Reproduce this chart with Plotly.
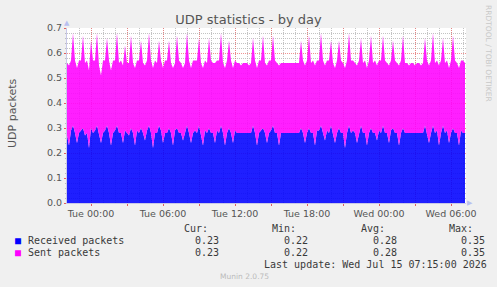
import plotly.graph_objects as go
import pandas as pd

# ---------------- data ----------------
start_time = "2026-07-13 22:00"
end_time = "2026-07-15 07:15"

received = [
    .27, .23, .29, .31, .28, .24, .28, .29, .30, .27,
    .28, .22, .30, .28, .29, .31, .27, .24, .28, .29,
    .31, .28, .23, .28, .29, .31, .28, .28, .24, .29,
    .28, .27, .30, .28, .23, .29, .28, .30, .28, .25,
    .29, .31, .28, .22, .28, .28, .31, .29, .24, .28,
    .28, .30, .28, .23, .29, .30, .28, .28, .25, .28,
    .31, .28, .24, .28, .29, .28, .31, .27, .23, .29,
    .28, .30, .28, .28, .24, .29, .28, .31, .28, .23,
    .28, .30, .28, .24, .29, .28, .28, .28, .28, .28,
    .28, .28, .28, .31, .28, .23, .28, .29, .30, .28,
    .24, .28, .29, .31, .28, .28, .23, .28, .28, .28,
    .28, .28, .28, .28, .28, .28, .28, .30, .28, .24,
    .28, .30, .28, .28, .23, .29, .29, .31, .28, .25,
    .29, .28, .31, .28, .24, .28, .30, .28, .28, .22,
    .28, .31, .28, .29, .28, .24, .28, .31, .28, .28,
    .23, .28, .30, .28, .28, .25, .29, .28, .31, .28,
    .28, .24, .29, .30, .28, .28, .23, .28, .30, .28,
    .28, .28, .28, .28, .28, .28, .28, .28, .28, .31,
    .28, .24, .28, .31, .28, .29, .23, .28, .31, .28,
    .29, .24, .28, .30, .28, .28, .23, .29, .28, .28,
]
sent = [
    .29, .32, .28, .37, .29, .30, .29, .28, .37, .29,
    .29, .31, .35, .29, .28, .37, .28, .27, .29, .28,
    .35, .29, .30, .29, .28, .37, .28, .29, .31, .34,
    .28, .29, .37, .28, .31, .28, .29, .35, .28, .30,
    .28, .37, .29, .32, .29, .28, .34, .28, .30, .29,
    .29, .35, .28, .31, .27, .37, .29, .28, .29, .28,
    .37, .29, .30, .29, .28, .29, .35, .29, .31, .28,
    .28, .36, .29, .28, .32, .28, .29, .37, .28, .31,
    .29, .35, .29, .30, .28, .28, .28, .27, .28, .28,
    .28, .27, .28, .35, .29, .31, .29, .28, .37, .28,
    .31, .29, .28, .36, .29, .28, .32, .28, .28, .28,
    .28, .28, .28, .28, .28, .28, .28, .35, .29, .31,
    .29, .37, .28, .29, .32, .28, .28, .37, .29, .30,
    .28, .29, .34, .28, .30, .29, .35, .29, .28, .32,
    .29, .37, .29, .28, .28, .31, .29, .35, .28, .29,
    .31, .29, .37, .28, .29, .30, .28, .29, .36, .29,
    .28, .31, .28, .35, .29, .28, .32, .29, .37, .28,
    .28, .27, .28, .28, .27, .28, .28, .27, .28, .35,
    .29, .31, .29, .37, .28, .28, .32, .29, .35, .28,
    .28, .30, .29, .37, .29, .28, .31, .28, .29, .28,
]

series_names = ["Received packets", "Sent packets"]
series_colors = ["#0000ff", "#ff00ff"]
cur_values = ["0.23", "0.23"]
min_values = ["0.22", "0.22"]
avg_values = ["0.28", "0.28"]
max_values = ["0.35", "0.35"]

tick_vals = [
    "2026-07-14 00:00", "2026-07-14 03:00", "2026-07-14 06:00", "2026-07-14 09:00",
    "2026-07-14 12:00", "2026-07-14 15:00", "2026-07-14 18:00", "2026-07-14 21:00",
    "2026-07-15 00:00", "2026-07-15 03:00", "2026-07-15 06:00",
]
tick_text = [
    "Tue 00:00", "", "Tue 06:00", "", "Tue 12:00", "", "Tue 18:00", "",
    "Wed 00:00", "", "Wed 06:00",
]

title_text = "UDP statistics - by day"
y_title = "UDP packets"
last_update = "Last update: Wed Jul 15 07:15:00 2026"
version_text = "Munin 2.0.75"
side_text = "RRDTOOL / TOBI OETIKER"

times = pd.date_range(start_time, periods=len(received), freq="10min")

# ---------------- figure ----------------
W, H = 497, 287
L, R, T, B = 67, 31, 28, 84
PW, PH = W - L - R, H - T - B


def px(x):
    return (x - L) / PW


def py(y):
    return (H - B - y) / PH


fig = go.Figure()
fills = ["rgba(0,0,255,0.88)", "rgba(255,0,255,0.88)"]
for vals, name, fc in zip([received, sent], series_names, fills):
    fig.add_trace(go.Scatter(
        x=times, y=vals, name=name, mode="lines", stackgroup="one",
        line=dict(width=0, shape="linear"), fillcolor=fc, showlegend=False,
        hoverinfo="skip",
    ))

major_grid = "rgba(235,110,110,0.75)"
minor_grid = "rgba(180,180,180,0.8)"

fig.update_layout(
    width=W, height=H,
    margin=dict(l=L, r=R, t=T, b=B, pad=0),
    paper_bgcolor="#f0f0f0", plot_bgcolor="#ffffff",
    font=dict(family="DejaVu Sans", color="#555555"),
    title=dict(text=title_text, x=0.5, xanchor="center", y=1 - 19 / H,
               yanchor="middle", font=dict(size=13, color="#555555")),
    showlegend=False,
    xaxis=dict(
        type="date", range=[start_time, end_time],
        tickvals=tick_vals, ticktext=tick_text,
        tickfont=dict(size=9.5, color="#555555"),
        showgrid=True, gridcolor=major_grid, griddash="1px,1px", gridwidth=1,
        ticks="outside", ticklen=2, tickcolor="#e06060",
        showline=True, linecolor="#c8c8e8", linewidth=1, zeroline=False,
        minor=dict(dtick=3600000, tick0=start_time, showgrid=True,
                   gridcolor=minor_grid, griddash="1px,1px", ticks=""),
    ),
    yaxis=dict(
        range=[0, 0.7], tick0=0, dtick=0.1, tickformat=".1f",
        tickfont=dict(size=9.5, color="#555555"),
        showgrid=True, gridcolor=major_grid, griddash="1px,1px", gridwidth=1,
        ticks="outside", ticklen=2, tickcolor="#e06060",
        showline=True, linecolor="#c8c8e8", linewidth=1, zeroline=False,
        minor=dict(dtick=0.02, showgrid=True, gridcolor=minor_grid,
                   griddash="1px,1px", ticks="outside", ticklen=1,
                   tickcolor="#bbbbbb"),
    ),
    yaxis2=dict(
        overlaying="y", side="right", range=[0, 0.7], showgrid=False,
        showticklabels=False, ticks="", showline=True, linecolor="#999999",
        zeroline=False,
    ),
)

ann = []
# y axis title
ann.append(dict(text=y_title, x=px(12), y=py(114), textangle=-90,
                font=dict(size=11, color="#555555")))
# side text
ann.append(dict(text=side_text, x=px(489), y=py(53), textangle=90,
                font=dict(size=7.5, color="#c8c8c8")))
# axis arrows
ann.append(dict(text="▲", x=px(67), y=py(23), font=dict(size=7, color="#b8c0f0")))
ann.append(dict(text="▶", x=px(470), y=py(203), font=dict(size=7, color="#b8c0f0")))

mono = dict(family="DejaVu Sans Mono", size=10, color="#3a3a3a")
headers = [("Cur:", 182), ("Min:", 270), ("Avg:", 358.5), ("Max:", 447)]
for txt, x in headers:
    ann.append(dict(text=txt, x=px(x), y=py(228.5), xanchor="left", font=mono))

row_y = [240, 252]
for i in range(2):
    ann.append(dict(text="■", x=px(13), y=py(row_y[i]), xanchor="left",
                    font=dict(family="DejaVu Sans Mono", size=10, color=series_colors[i])))
    ann.append(dict(text=series_names[i], x=px(26), y=py(row_y[i]), xanchor="left", font=mono))
    for vals, x in [(cur_values, 193), (min_values, 281.5), (avg_values, 370.5), (max_values, 459)]:
        ann.append(dict(text=vals[i], x=px(x), y=py(row_y[i]), xanchor="left", font=mono))

ann.append(dict(text=last_update, x=px(261.5), y=py(264), xanchor="left", font=mono))
ann.append(dict(text=version_text, x=px(244), y=py(276), font=dict(size=7.5, color="#bbbbbb")))

for a in ann:
    a.setdefault("xref", "paper")
    a.setdefault("yref", "paper")
    a.setdefault("showarrow", False)
    a.setdefault("xanchor", "center")
    a.setdefault("yanchor", "middle")
fig.update_layout(annotations=ann)

fig.write_html("out.html")
